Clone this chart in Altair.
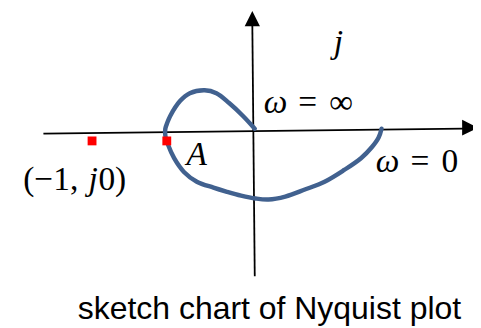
import altair as alt
import pandas as pd

curve_re = [0.777, 0.759, 0.717, 0.651, 0.548, 0.428, 0.307, 0.187, 0.084, 0.006,
            -0.084, -0.175, -0.253, -0.355, -0.434, -0.494, -0.530, -0.548, -0.548,
            -0.536, -0.518, -0.458, -0.398, -0.307, -0.235, -0.157, -0.072, 0.000]
curve_im = [0.012, -0.042, -0.102, -0.169, -0.241, -0.313, -0.361, -0.404, -0.422, -0.416,
            -0.398, -0.373, -0.349, -0.313, -0.253, -0.169, -0.090, -0.030, 0.012,
            0.048, 0.090, 0.181, 0.229, 0.247, 0.229, 0.169, 0.090, 0.012]

# axes of the complex plane (start / end)
axis_x1 = [-1.295, 0.000]
axis_y1 = [-0.018, -0.892]
axis_x2 = [1.280, -0.015]
axis_y2 = [0.012, 0.660]

# arrow heads
arrow_right = {"x": [1.319], "y": [0.018]}
arrow_up = {"x": [-0.015], "y": [0.687]}

# marked points: (-1, j0) and A
mark_re = [-0.997, -0.539]
mark_im = [-0.063, -0.063]

# labels
ital_text = ["j", "ω", "A", "ω", "j"]
ital_x = [0.512, 0.127, -0.355, 0.813, -0.990]
ital_y = [0.476, 0.108, -0.211, -0.253, -0.361]

up_text = ["=", "∞", "=", "0", "(−1,", "0)"]
up_x = [0.325, 0.530, 1.012, 1.196, -1.250, -0.873]
up_y = [0.108, 0.108, -0.253, -0.253, -0.361, -0.361]

caption = ["sketch chart of Nyquist plot"]
cap_x = [0.090]
cap_y = [-1.157]

XDOM = [-1.5120, 1.3373]
YDOM = [-1.1928, 0.7349]

xs = alt.Scale(domain=XDOM, zero=False, nice=False)
ys = alt.Scale(domain=YDOM, zero=False, nice=False)

curve_df = pd.DataFrame({"re": curve_re, "im": curve_im, "i": list(range(len(curve_re)))})
axes_df = pd.DataFrame({"x1": axis_x1, "y1": axis_y1, "x2": axis_x2, "y2": axis_y2})
marks_df = pd.DataFrame({"re": mark_re, "im": mark_im})
ital_df = pd.DataFrame({"t": ital_text, "x": ital_x, "y": ital_y})
up_df = pd.DataFrame({"t": up_text, "x": up_x, "y": up_y})
cap_df = pd.DataFrame({"t": caption, "x": cap_x, "y": cap_y})

X = lambda f: alt.X(f, type="quantitative", scale=xs, axis=None)
Y = lambda f: alt.Y(f, type="quantitative", scale=ys, axis=None)

axes = alt.Chart(axes_df).mark_rule(color="black", strokeWidth=1.8).encode(
    x=X("x1"), y=Y("y1"), x2="x2", y2="y2")

arr_r = alt.Chart(pd.DataFrame(arrow_right)).mark_point(
    shape="M-1,-1L1,0L-1,1Z", size=256, filled=True, color="black", opacity=1,
    strokeWidth=0).encode(x=X("x"), y=Y("y"))
arr_u = alt.Chart(pd.DataFrame(arrow_up)).mark_point(
    shape="M-1,1L0,-1L1,1Z", size=240, filled=True, color="black", opacity=1,
    strokeWidth=0).encode(x=X("x"), y=Y("y"))

curve = alt.Chart(curve_df).mark_line(
    interpolate="catmull-rom", strokeWidth=4.5, color="#41618f",
    strokeCap="round", strokeJoin="round").encode(x=X("re"), y=Y("im"), order="i:Q")

pts = alt.Chart(marks_df).mark_square(size=81, color="#ff0000", filled=True,
                                      opacity=1).encode(x=X("re"), y=Y("im"))

ital = alt.Chart(ital_df).mark_text(
    font="Liberation Serif", fontStyle="italic", fontSize=34, align="center",
    baseline="alphabetic", color="black").encode(x=X("x"), y=Y("y"), text="t:N")
upr = alt.Chart(up_df).mark_text(
    font="Liberation Serif", fontSize=34, align="center",
    baseline="alphabetic", color="black").encode(x=X("x"), y=Y("y"), text="t:N")
cap = alt.Chart(cap_df).mark_text(
    font="Liberation Sans", fontSize=32.5, align="center",
    baseline="alphabetic", color="black").encode(x=X("x"), y=Y("y"), text="t:N")

chart = alt.layer(axes, arr_r, arr_u, curve, pts, ital, upr, cap).properties(
    width=473, height=320, padding=0,
    autosize=alt.AutoSizeParams(type="none"),
).configure_view(stroke=None)

chart.save("out.html", embed_options={"renderer": "svg", "actions": False})
